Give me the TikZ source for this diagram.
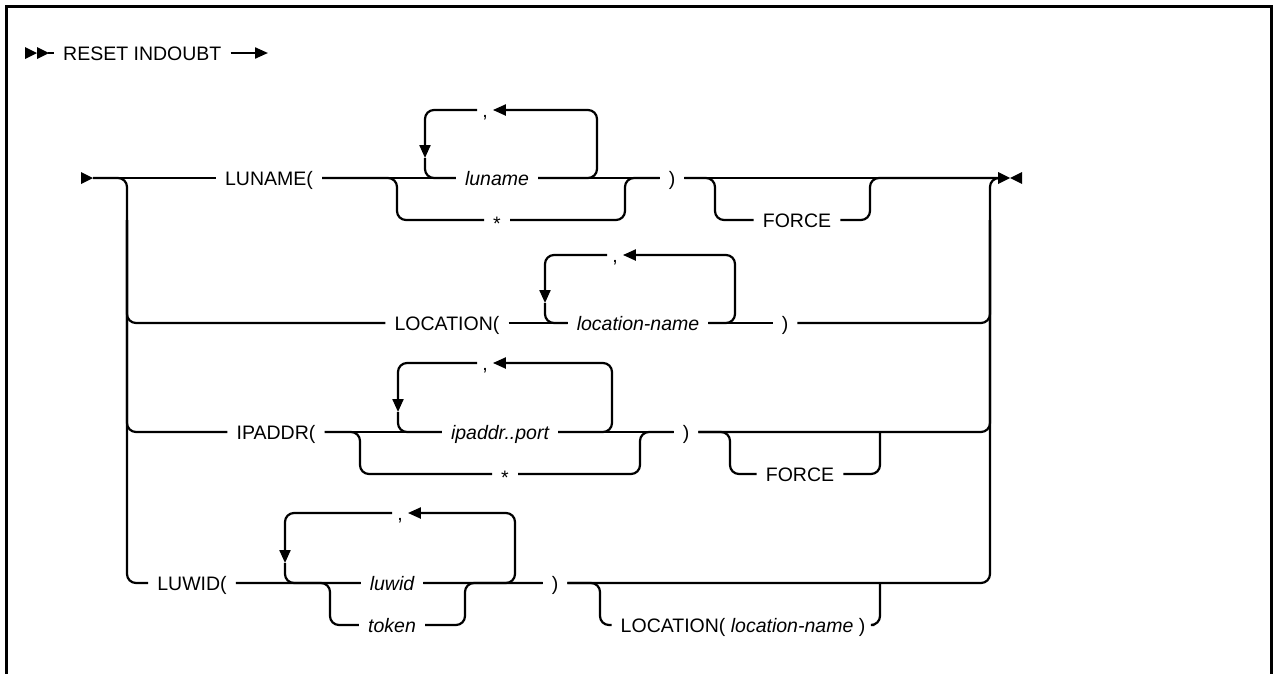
\documentclass[tikz,border=0pt]{standalone}
\usepackage{fontspec}
\setmainfont{Liberation Sans}
\usetikzlibrary{arrows.meta}
\newcommand\rrfont{\fontsize{19.5}{21}\selectfont}

\begin{document}
\begin{tikzpicture}[x=1pt,y=-1pt,
  rail/.style={line width=2.2pt,rounded corners=9pt},
  tip/.style={-{Triangle[length=13pt,width=11pt]}},
  kw/.style={inner xsep=9pt,inner ysep=0pt,text height=14pt,text depth=0pt,font=\rrfont},
  var/.style={kw,font=\rrfont\itshape},
  sep/.style={kw,inner xsep=5pt},
  fwdtri/.pic={\fill (0,-6) -- (12,0) -- (0,6) -- cycle;},
  backtri/.pic={\fill (0,0) -- (12,-6) -- (12,6) -- cycle;}]
\useasboundingbox (0,0) rectangle (1274,673);
% frame
\draw[line width=3pt] (6,690) -- (6,6) -- (1271,6) -- (1271,690);

% statement
\pic at (25,53) {fwdtri};
\pic at (37,53) {fwdtri};
\coordinate (go) at (48,53);
\node[kw,anchor=west] (reset) at (54,53) {RESET INDOUBT};
\coordinate (goOn) at (268,53);
\draw[rail] (go) -- (reset);
\draw[rail,tip] (reset) -- (goOn);

% main rails
\pic at (81,178) {fwdtri};
\coordinate (m0) at (93,178);
\coordinate (lft) at (127,178);
\coordinate (rgt) at (990,178);
\coordinate (m1) at (998,178);
\pic at (998,178) {fwdtri};
\pic at (1010,178) {backtri};

% LUNAME
\node[kw] (lunKw) at (269,178) {LUNAME(};
\node[var] (lunVar) at (497,178) {luname};
\node[kw] (lunStar) at (497,220) {\raisebox{-3pt}{*}};
\node[sep] (lunSep) at (485,110) {,};
\node[kw] (lunClose) at (672,178) {)};
\node[kw] (lunForce) at (797,220) {FORCE};
\coordinate (lunA) at (397,178);
\coordinate (lunB) at (625,178);
\coordinate (lunL) at (425,158);
\coordinate (lunR) at (597,178);
\coordinate (lunF) at (715,178);
\coordinate (lunG) at (870,178);
\draw[rail] (m0) -- (lunKw) -- (lunVar) -- (lunClose) -- (m1);
\draw[rail] (lunKw) -| (lunA |- lunStar) -- (lunStar);
\draw[rail] (lunStar) -| (lunB) -- (lunClose);
\draw[rail,tip] (lunVar) -| (lunR |- lunSep) -- (lunSep);
\draw[rail,tip] (lunSep) -| (lunL);
\draw[rail] (lunL) |- (lunVar);
\draw[rail] (lunClose) -| (lunF |- lunForce) -- (lunForce);
\draw[rail] (lunForce) -| (lunG) -- (m1);

% LOCATION
\node[kw] (locKw) at (447,323) {LOCATION(};
\node[var] (locVar) at (638,323) {location-name};
\node[sep] (locSep) at (615,255) {,};
\node[kw] (locClose) at (785,323) {)};
\coordinate (locL) at (545,303);
\coordinate (locR) at (735,323);
\draw[rail] (lft |- lunStar) |- (locKw);
\draw[rail] (locKw) -- (locVar) -- (locClose);
\draw[rail] (locClose) -| (rgt |- lunStar);
\draw[rail,tip] (locVar) -| (locR |- locSep) -- (locSep);
\draw[rail,tip] (locSep) -| (locL);
\draw[rail] (locL) |- (locVar);

% IPADDR
\node[kw] (ipKw) at (276,432) {IPADDR(};
\node[var] (ipVar) at (500,432) {ipaddr..port};
\node[kw] (ipStar) at (505,474) {\raisebox{-3pt}{*}};
\node[sep] (ipSep) at (485,363) {,};
\node[kw] (ipClose) at (686,432) {)};
\node[kw] (ipForce) at (800,474) {FORCE};
\coordinate (ipA) at (360,432);
\coordinate (ipB) at (640,432);
\coordinate (ipL) at (398,412);
\coordinate (ipR) at (612,432);
\coordinate (ipF) at (730,432);
\coordinate (ipG) at (880,432);
\draw[rail] (lft |- lunStar) |- (ipKw);
\draw[rail] (ipKw) -- (ipVar) -- (ipClose);
\draw[rail] (ipKw) -| (ipA |- ipStar) -- (ipStar);
\draw[rail] (ipStar) -| (ipB) -- (ipClose);
\draw[rail,tip] (ipVar) -| (ipR |- ipSep) -- (ipSep);
\draw[rail,tip] (ipSep) -| (ipL);
\draw[rail] (ipL) |- (ipVar);
\draw[rail] (ipClose) -| (ipF |- ipForce) -- (ipForce);
\draw[rail] (ipForce) -| (ipG);
\draw[rail] (ipClose) -| (rgt |- lunStar);

% LUWID
\node[kw] (luwKw) at (192,583) {LUWID(};
\node[var] (luwVar) at (392,583) {luwid};
\node[var] (luwTok) at (392,625) {token};
\node[sep] (luwSep) at (400,513) {,};
\node[kw] (luwClose) at (555,583) {)};
\node[kw] (luwLoc) at (743,625) {LOCATION( \textit{location-name} )};
\coordinate (luwA) at (330,583);
\coordinate (luwB) at (465,583);
\coordinate (luwL) at (285,563);
\coordinate (luwR) at (515,583);
\coordinate (luwF) at (600,583);
\coordinate (luwG) at (880,583);
\draw[rail] (m0) -| (lft |- luwKw) -- (luwKw);
\draw[rail] (luwKw) -- (luwVar) -- (luwClose);
\draw[rail] (luwKw) -| (luwA |- luwTok) -- (luwTok);
\draw[rail] (luwTok) -| (luwB) -- (luwClose);
\draw[rail,tip] (luwVar) -| (luwR |- luwSep) -- (luwSep);
\draw[rail,tip] (luwSep) -| (luwL);
\draw[rail] (luwL) |- (luwVar);
\draw[rail] (luwClose) -| (luwF |- luwLoc) -- (luwLoc);
\draw[rail] (luwLoc) -| (luwG);
\draw[rail] (luwClose) -| (rgt) -- (m1);
\end{tikzpicture}
\end{document}
